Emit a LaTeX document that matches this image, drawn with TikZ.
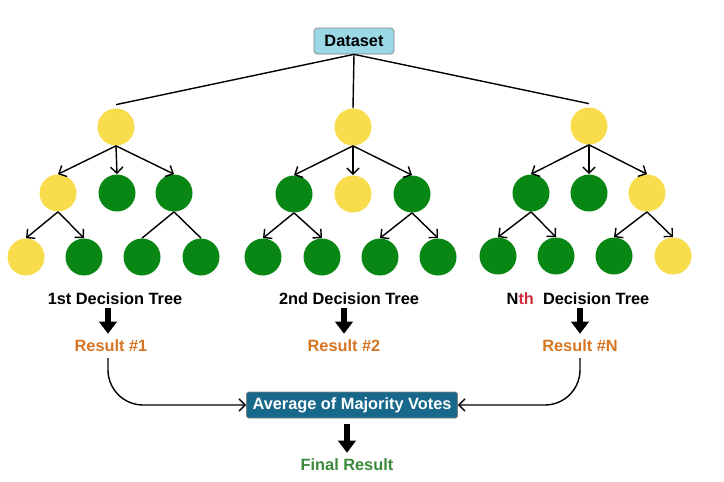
\documentclass[tikz,border=0pt]{standalone}
\usepackage{fontspec}
\setmainfont{Liberation Sans}
\usetikzlibrary{arrows.meta}
\definecolor{leafyellow}{HTML}{F9DC4C}
\definecolor{leafgreen}{HTML}{088714}
\definecolor{dsblue}{HTML}{9BD8E6}
\definecolor{avgblue}{HTML}{17688A}
\definecolor{resorange}{HTML}{D67522}
\definecolor{finalgreen}{HTML}{3A8A3A}
\definecolor{thred}{HTML}{D22C3C}
\tikzset{
  ynode/.style={circle, fill=leafyellow, minimum size=37*0.02cm, inner sep=0pt},
  gnode/.style={circle, fill=leafgreen, minimum size=37*0.02cm, inner sep=0pt},
  lbl/.style={font=\fontsize{9.3}{11}\selectfont\bfseries},
  bigarrow/.style={line width=3.4pt, -{Triangle[length=7pt,width=10pt]}},
}
\begin{document}
\begin{tikzpicture}[x=0.02cm, y=-0.02cm, >={Straight Barb[length=3.5pt,width=7pt]}]
                \useasboundingbox (0,0) rectangle (724,481);
                % dataset
                \node[lbl, draw=gray, fill=dsblue, rounded corners=2pt, minimum width=80*0.02cm, minimum height=26*0.02cm, inner sep=0pt] (ds) at (354,41) {Dataset};
                % first tree
                \node[ynode] (t1r) at (116,127) {};
                \node[ynode] (t1a) at (58,193) {};
                \node[gnode] (t1b) at (117,193) {};
                \node[gnode] (t1c) at (174,193) {};
                \node[ynode] (t1aa) at (26,257) {};
                \node[gnode] (t1ab) at (84,257) {};
                \node[gnode] (t1ca) at (142,257) {};
                \node[gnode] (t1cb) at (201,257) {};
                % second tree
                \node[ynode] (t2r) at (353,127) {};
                \node[gnode] (t2a) at (294,194) {};
                \node[ynode] (t2b) at (353,194) {};
                \node[gnode] (t2c) at (412,194) {};
                \node[gnode] (t2aa) at (263,257) {};
                \node[gnode] (t2ab) at (322,257) {};
                \node[gnode] (t2ca) at (380,257) {};
                \node[gnode] (t2cb) at (438,257) {};
                % nth tree
                \node[ynode] (t3r) at (589,126) {};
                \node[gnode] (t3a) at (531,193) {};
                \node[gnode] (t3b) at (589,193) {};
                \node[ynode] (t3c) at (647,193) {};
                \node[gnode] (t3aa) at (498,256) {};
                \node[gnode] (t3ab) at (556,256) {};
                \node[gnode] (t3ca) at (614,256) {};
                \node[ynode] (t3cb) at (673,256) {};
                % dataset to roots
                \draw[thick] (ds.south) -- ([yshift=2pt]t1r.north);
                \draw[thick] (ds.south) -- (t2r.north);
                \draw[thick] (ds.south) -- ([yshift=2pt]t3r.north);
                % tree edges
                \draw[->,thick] (t1r.south) -- (t1a.north);
                \draw[->,thick] (t1r.south) -- (t1b.north);
                \draw[->,thick] (t1r.south) -- (t1c.north);
                \draw[->,thick] (t1a.south) -- (t1aa.north);
                \draw[->,thick] (t1a.south) -- (t1ab.north);
                \draw[thick] (t1c.south) -- (t1ca.north);
                \draw[thick] (t1c.south) -- (t1cb.north);
                \draw[->,thick] (t2r.south) -- (t2a.north);
                \draw[->,thick] (t2r.south) -- (t2b.north);
                \draw[->,thick] (t2r.south) -- (t2c.north);
                \draw[->,thick] (t2a.south) -- (t2aa.north);
                \draw[->,thick] (t2a.south) -- (t2ab.north);
                \draw[->,thick] (t2c.south) -- (t2ca.north);
                \draw[->,thick] (t2c.south) -- (t2cb.north);
                \draw[->,thick] (t3r.south) -- (t3a.north);
                \draw[->,thick] (t3r.south) -- (t3b.north);
                \draw[->,thick] (t3r.south) -- (t3c.north);
                \draw[->,thick] (t3a.south) -- (t3aa.north);
                \draw[->,thick] (t3a.south) -- (t3ab.north);
                \draw[->,thick] (t3c.south) -- (t3ca.north);
                \draw[->,thick] (t3c.south) -- (t3cb.north);
                % tree labels and results
                \node[lbl] (n1) at (115,299) {1st Decision Tree};
                \node[lbl] (n2) at (349,299) {2nd Decision Tree};
                \node[lbl] (n3) at (578,299) {N\textcolor{thred}{th}\ \ Decision Tree};
                \node[lbl, text=resorange] (r1) at (111,346) {Result \#1};
                \node[lbl, text=resorange] (r2) at (344,346) {Result \#2};
                \node[lbl, text=resorange] (r3) at (580,346) {Result \#N};
                \draw[bigarrow] (108,308) -- (r1.north -| 108,0);
                \draw[bigarrow] (344,308) -- (r2.north);
                \draw[bigarrow] (580,308) -- (r3.north -| 580,0);
                % vote
                \node[lbl, text=white, draw=gray, fill=avgblue, rounded corners=1pt, minimum width=211*0.02cm, minimum height=26*0.02cm, inner sep=0pt] (avg) at (352,405) {Average of Majority Votes};
                \draw[->,thick, rounded corners=20pt] (r1.south -| 108,0) |- (avg.west);
                \draw[->,thick, rounded corners=20pt] (r3.south -| 580,0) |- (avg.east);
                \node[lbl, text=finalgreen] (fin) at (347,465) {Final Result};
                \draw[bigarrow] (347,424) -- (fin.north);
\end{tikzpicture}
\end{document}
